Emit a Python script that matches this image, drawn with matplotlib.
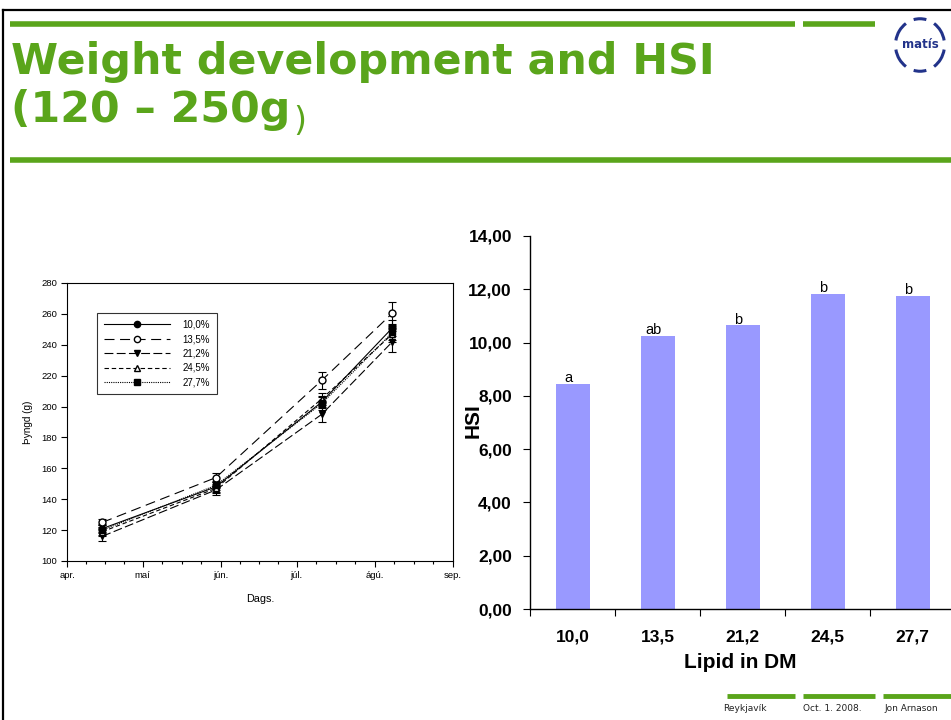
import matplotlib
matplotlib.use("Agg")
import matplotlib.pyplot as plt
import numpy as np
import pandas as pd
from matplotlib.patches import Arc
from matplotlib.lines import Line2D

# --- weight development (g) per diet lipid level ---
dates = pd.to_datetime(["2008-04-15", "2008-05-30", "2008-07-11", "2008-08-08"])
groups = ["10,0%", "13,5%", "21,2%", "24,5%", "27,7%"]
w_100 = [121, 148, 203, 251]
w_135 = [125, 154, 217, 260.5]
w_212 = [116, 146, 195, 242]
w_245 = [119, 147, 205, 247]
w_277 = [120, 149, 202, 248]
se_100 = [3, 3, 4, 5]
se_135 = [2, 3, 5.5, 7]
se_212 = [3, 3, 5, 7]
se_245 = [3, 3, 4, 5]
se_277 = [3, 3, 4, 5]
month_ticks = pd.to_datetime(["2008-04-01", "2008-05-01", "2008-06-01",
                              "2008-07-01", "2008-08-01", "2008-09-01"])
month_labels = ["apr.", "maí", "jún.", "júl.", "ágú.", "sep."]

# --- HSI per lipid level ---
lipid = ["10,0", "13,5", "21,2", "24,5", "27,7"]
hsi = [8.45, 10.25, 10.65, 11.84, 11.76]
sig = ["a", "ab", "b", "b", "b"]

green = "#5aa51b"

fig = plt.figure(figsize=(9.51, 7.2), dpi=100)
W, H = 951, 720

def fx(x):
    return x / W

def fy(y):
    return 1 - y / H

# slide frame
fig.add_artist(Line2D([fx(3), fx(3)], [fy(10), fy(720)], color="black", lw=1.6))
fig.add_artist(Line2D([fx(3), fx(951)], [fy(10), fy(10)], color="black", lw=1.6))

# green rules
for x0, x1 in [(10, 795), (803, 875)]:
    fig.add_artist(Line2D([fx(x0), fx(x1)], [fy(24), fy(24)], color=green, lw=4,
                          solid_capstyle="butt"))
fig.add_artist(Line2D([fx(10), fx(951)], [fy(160), fy(160)], color=green, lw=4,
                      solid_capstyle="butt"))
for x0, x1 in [(727, 795), (803, 875), (883, 951)]:
    fig.add_artist(Line2D([fx(x0), fx(x1)], [fy(696), fy(696)], color=green, lw=3.5,
                          solid_capstyle="butt"))

fig.text(fx(11), fy(74), "Weight development and HSI", color=green, fontsize=30.8,
         fontweight="bold", family="DejaVu Sans", va="baseline")
t2 = fig.text(fx(11), fy(122), "(120 – 250g", color=green, fontsize=30.8,
              fontweight="bold", family="DejaVu Sans", va="baseline")
# closing bracket is set in the regular weight, right after the bold part
fig.add_artist(plt.Annotation(")", xy=(1, 0), xycoords=t2, xytext=(2, 0),
                              textcoords="offset points", color=green, fontsize=24,
                              family="DejaVu Sans", va="baseline", ha="left"))

for x, s in [(723, "Reykjavík"), (803, "Oct. 1. 2008."), (884, "Jon Arnason")]:
    fig.text(fx(x), fy(711), s, fontsize=6.5, family="DejaVu Sans", color="#222222",
             va="baseline")

# logo
logo = fig.add_axes([fx(892), fy(75), fx(56), fy(15) - fy(75)])
logo.set_xlim(-1, 1)
logo.set_ylim(-1, 1)
logo.axis("off")
navy = "#22338a"
for a0, a1 in [(75, 105), (125, 170), (190, 235), (255, 285), (305, 350), (10, 55)]:
    logo.add_patch(Arc((0, 0), 1.75, 1.75, theta1=a0, theta2=a1, color=navy, lw=2.2))
logo.text(0, 0.02, "matís", ha="center", va="center", fontsize=8.5, color=navy,
          family="DejaVu Sans Condensed", fontweight="bold")

# ---------- left: weight over time ----------
ax1 = fig.add_axes([fx(67), fy(561), fx(453) - fx(67), fy(283) - fy(561)])
series = [w_100, w_135, w_212, w_245, w_277]
errs = [se_100, se_135, se_212, se_245, se_277]
styles = [
    dict(ls="-", marker="o", mfc="black"),
    dict(ls=(0, (9, 5)), marker="o", mfc="white"),
    dict(ls=(0, (8, 3)), marker="v", mfc="black"),
    dict(ls=(0, (4, 2.5)), marker="^", mfc="white"),
    dict(ls=(0, (1, 1)), marker="s", mfc="black"),
]
for vals, err, lab, st in zip(series, errs, groups, styles):
    ax1.errorbar(dates, vals, yerr=err, color="black", lw=0.8, ls=st["ls"],
                 marker=st["marker"], mfc=st["mfc"], mec="black", ms=5,
                 ecolor="black", elinewidth=0.8, capsize=3, capthick=0.8,
                 label=lab)
ax1.set_xlim(month_ticks[0], month_ticks[-1])
ax1.set_ylim(100, 280)
ax1.set_yticks(np.arange(100, 281, 20))
ax1.set_xticks(month_ticks)
ax1.set_xticklabels(month_labels)
minor = []
for a, b in zip(month_ticks[:-1], month_ticks[1:]):
    for k in (1, 2, 3):
        minor.append(a + (b - a) * k / 4)
ax1.set_xticks(minor, minor=True)
ax1.tick_params(axis="both", which="major", direction="out", length=4, width=0.8,
                labelsize=6.8, pad=3)
ax1.tick_params(axis="x", which="minor", direction="out", length=2.5, width=0.8)
for lbl in ax1.get_xticklabels() + ax1.get_yticklabels():
    lbl.set_family("Liberation Sans")
for sp in ax1.spines.values():
    sp.set_linewidth(0.8)
ax1.set_ylabel("Þyngd (g)", fontsize=7.2, family="Liberation Sans", labelpad=6)
ax1.set_xlabel("Dags.", fontsize=7.8, family="Liberation Sans", labelpad=10)
handles, labels = ax1.get_legend_handles_labels()
handles = [h[0] for h in handles]
leg = ax1.legend(handles, labels, loc="upper left",
                 bbox_to_anchor=((97 - 67) / 386, (561 - 313) / 278),
                 prop={"family": "Liberation Sans", "size": 7}, frameon=True,
                 fancybox=False, edgecolor="black", handlelength=6.8,
                 handletextpad=1.3, labelspacing=0.45, borderpad=0.7,
                 borderaxespad=0, markerscale=0.9)
leg.get_frame().set_linewidth(0.8)

# ---------- right: HSI bars ----------
ax2 = fig.add_axes([fx(530), fy(609), fx(955) - fx(530), fy(236) - fy(609)])
pos = np.arange(len(lipid))
ax2.bar(pos, hsi, width=0.4, color="#9999ff", edgecolor="none")
for p, v, s in zip(pos, hsi, sig):
    ax2.text(p - 0.05, v - 0.05, s, ha="center", va="bottom", fontsize=10.5,
             family="Liberation Sans")
ax2.set_xlim(-0.5, 4.5)
ax2.set_ylim(0, 14)
ax2.set_yticks(np.arange(0, 14.1, 2))
ax2.set_yticklabels([f"{v:.2f}".replace(".", ",") for v in np.arange(0, 14.1, 2)])
ax2.set_xticks(pos)
ax2.set_xticklabels(lipid)
ax2.set_xticks(np.arange(-0.5, 4.6, 1), minor=True)
ax2.tick_params(axis="x", which="major", length=0, pad=15)
ax2.tick_params(axis="x", which="minor", direction="out", length=5, width=0.8)
ax2.tick_params(axis="y", direction="out", length=5, width=0.8, pad=8)
for lbl in ax2.get_xticklabels() + ax2.get_yticklabels():
    lbl.set_family("Liberation Sans")
    lbl.set_fontweight("bold")
    lbl.set_fontsize(12.5)
for side in ("top", "right"):
    ax2.spines[side].set_visible(False)
for side in ("left", "bottom"):
    ax2.spines[side].set_linewidth(1)
ax2.set_xlabel("Lipid in DM", fontsize=15, fontweight="bold",
               family="Liberation Sans")
ax2.xaxis.set_label_coords((740 - 530) / 425, -(653 - 609) / 373)
ax2.set_ylabel("HSI", fontsize=15, fontweight="bold", family="Liberation Sans")
ax2.yaxis.set_label_coords(-(530 - 483) / 425, (609 - 421) / 373)

fig.savefig("out.png", dpi=100)
